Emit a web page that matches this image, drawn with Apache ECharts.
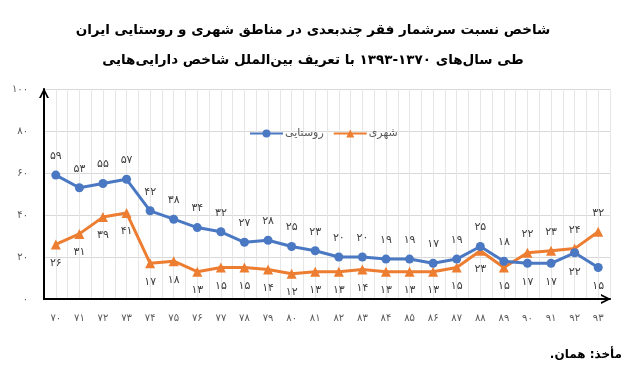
<!DOCTYPE html>
<html><head><meta charset="utf-8">
<script src="https://cdn.jsdelivr.net/npm/echarts@6/dist/echarts.min.js"></script>
<style>html,body{margin:0;padding:0;background:#fff}#c{width:626px;height:371px}</style>
</head><body><div id="c" dir="rtl"></div>
<script>
const years = ['۷۰','۷۱','۷۲','۷۳','۷۴','۷۵','۷۶','۷۷','۷۸','۷۹','۸۰','۸۱','۸۲','۸۳','۸۴','۸۵','۸۶','۸۷','۸۸','۸۹','۹۰','۹۱','۹۲','۹۳'];
const rural = [59,53,55,57,42,38,34,32,27,28,25,23,20,20,19,19,17,19,25,18,17,17,22,15];
const urban = [26,31,39,41,17,18,13,15,15,14,12,13,13,14,13,13,13,15,23,15,22,23,24,32];
const ruralName = 'روستایی';
const urbanName = 'شهری';
const titleText = 'شاخص نسبت سرشمار فقر چندبعدی در مناطق شهری و روستایی ایران\nطی سال‌های ۱۳۷۰-۱۳۹۳ با تعریف بین‌الملل شاخص دارایی‌هایی';
const sourceText = 'مأخذ: همان.';

const fa = s => String(s).replace(/\d/g, d => '۰۱۲۳۴۵۶۷۸۹'[d]);
const FONT = 'DejaVu Sans';
const flipAt = 20;
const arrow = 'path://M0,10 L5,0 L10,10 L8,10 L5,3.6 L2,10 Z';

function build(vals, normalPos, flippedPos) {
  return vals.map((v, i) => ({
    value: v,
    label: { position: i >= flipAt ? flippedPos : normalPos }
  }));
}

const chart = echarts.init(document.getElementById('c'), null, { renderer: 'canvas' });
chart.setOption({
  animation: false,
  backgroundColor: '#fff',
  textStyle: { fontFamily: FONT },
  title: {
    text: titleText,
    left: 'center',
    top: 10,
    textStyle: { fontFamily: FONT, fontSize: 13.5, fontWeight: 'bold', color: '#000', lineHeight: 30 }
  },
  legend: {
    left: 244, top: 123,
    itemWidth: 33, itemHeight: 10, itemGap: 9,
    data: [ruralName, urbanName],
    textStyle: { fontFamily: FONT, fontSize: 11, color: '#595959', padding: [0, 0, 0, -3] }
  },
  grid: { left: 44, right: 16, top: 89, bottom: 72, containLabel: false },
  xAxis: [{
    type: 'category',
    data: years,
    boundaryGap: true,
    axisLine: { lineStyle: { color: '#000', width: 2 }, symbol: ['none', arrow], symbolSize: [10, 10], symbolOffset: [0, -4] },
    axisTick: { show: false },
    axisLabel: { color: '#595959', fontSize: 10, margin: 14, interval: 0, fontFamily: FONT },
    splitLine: { show: false }
  }, {
    type: 'value',
    min: 0, max: 48, interval: 1,
    position: 'bottom',
    axisLine: { show: false }, axisTick: { show: false }, axisLabel: { show: false },
    splitLine: { show: true, lineStyle: { color: '#e6e6e6', width: 1 } }
  }],
  yAxis: {
    type: 'value',
    min: 0, max: 100, interval: 20,
    axisLine: { show: true, lineStyle: { color: '#000', width: 2 }, symbol: ['none', arrow], symbolSize: [10, 10], symbolOffset: [0, -4] },
    axisTick: { show: false },
    axisLabel: { color: '#595959', fontSize: 10, margin: 16, formatter: v => fa(v), fontFamily: FONT },
    splitLine: { lineStyle: { color: '#d9d9d9', width: 1 } }
  },
  series: [{
    name: ruralName,
    type: 'line',
    xAxisIndex: 0,
    data: build(rural, 'top', 'bottom'),
    symbol: 'circle', symbolSize: 9,
    lineStyle: { color: '#4A78C2', width: 3 },
    itemStyle: { color: '#4A78C2' },
    label: { show: true, distance: 9, color: '#404040', fontSize: 11, fontFamily: FONT, formatter: p => fa(p.value) },
    z: 3
  }, {
    name: urbanName,
    type: 'line',
    xAxisIndex: 0,
    data: build(urban, 'bottom', 'top'),
    symbol: 'triangle', symbolSize: 10,
    lineStyle: { color: '#ED7D31', width: 3 },
    itemStyle: { color: '#ED7D31' },
    label: { show: true, distance: 8, color: '#404040', fontSize: 11, fontFamily: FONT, formatter: p => fa(p.value) },
    z: 2
  }],
  graphic: [{
    type: 'text',
    right: 4, top: 349,
    style: { text: sourceText, font: 'bold 12px "DejaVu Sans"', fill: '#000' }
  }]
});
</script></body></html>
